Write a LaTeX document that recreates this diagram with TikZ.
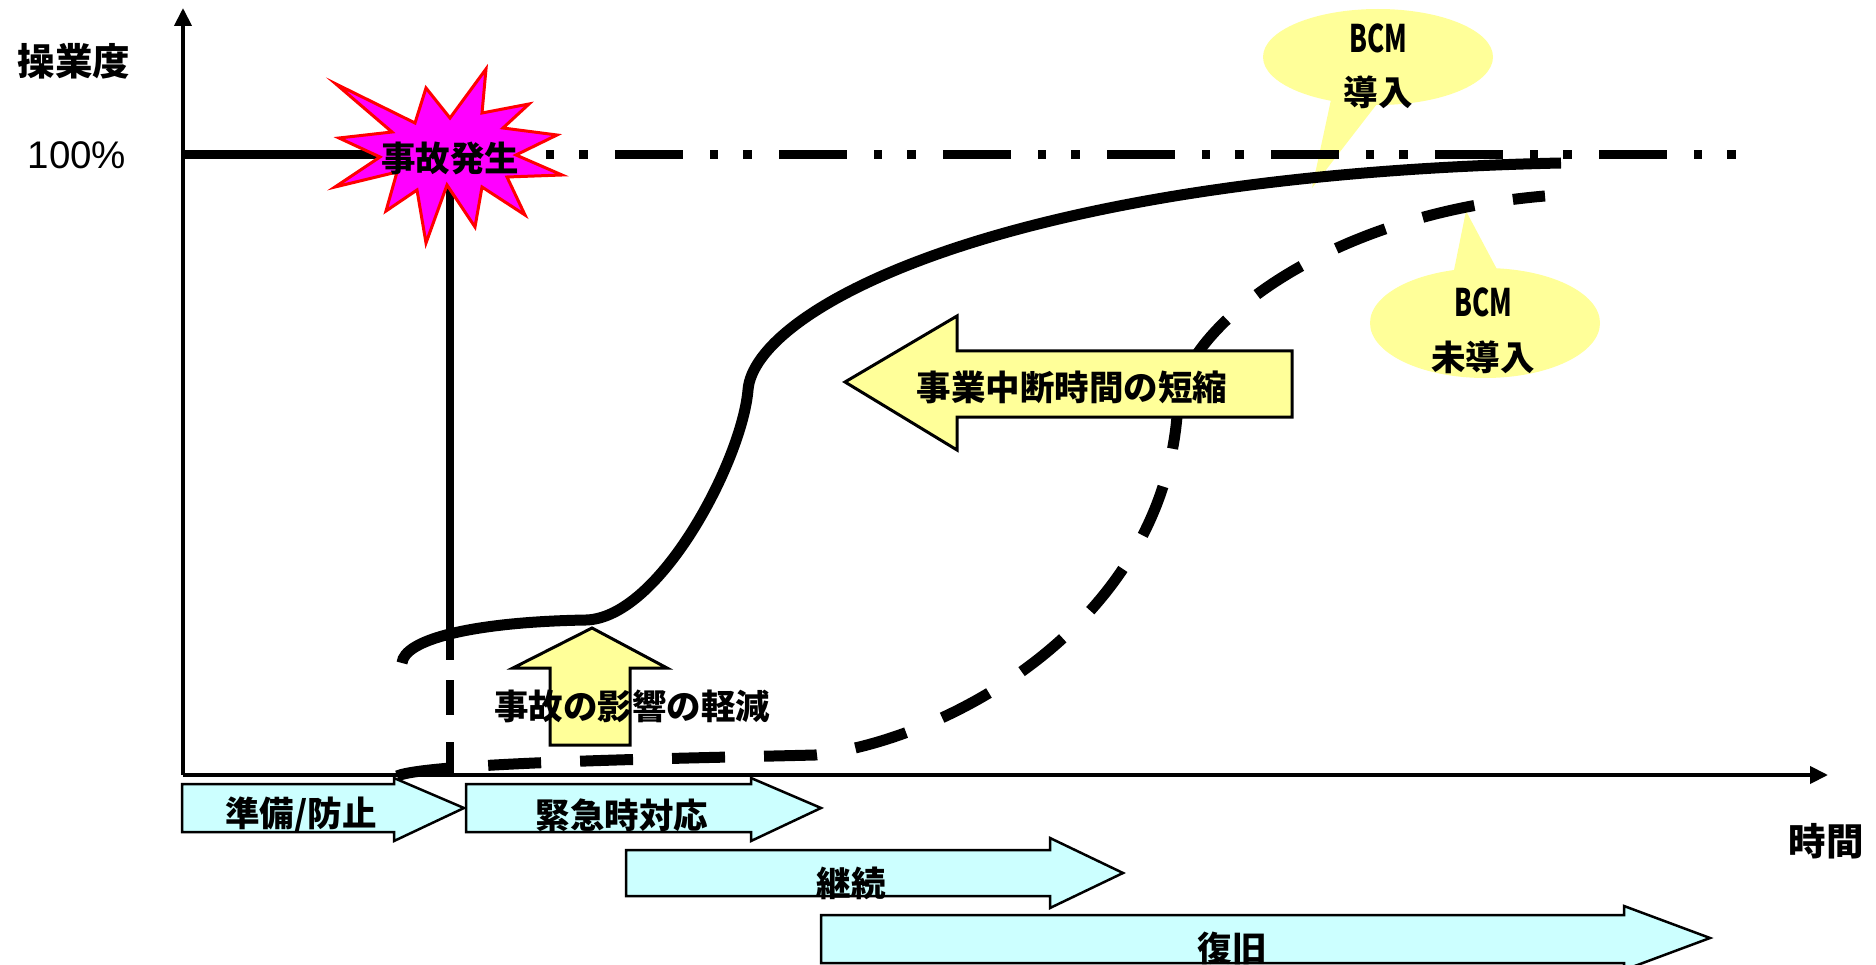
\documentclass[tikz,border=0pt]{standalone}
\usepackage{graphicx}
\usepackage{fontspec}
\setmainfont{Liberation Sans}
\newfontfamily\jp{Noto Sans CJK JP}
\usetikzlibrary{arrows.meta}
\definecolor{lyellow}{RGB}{255,255,153}
\definecolor{lcyan}{RGB}{204,255,255}
\definecolor{burst}{RGB}{255,0,255}
\definecolor{burstline}{RGB}{255,0,0}
\tikzset{
  jptext/.style={font=\jp\bfseries\fontsize{34.5}{38}\selectfont, inner sep=0pt, text=black},
  bigjptext/.style={font=\jp\bfseries\fontsize{37.5}{40}\selectfont, inner sep=0pt, text=black},
  latintext/.style={font=\fontsize{38.5}{42}\selectfont, inner sep=0pt, text=black},
  ybox/.style={fill=lyellow, draw=black, line width=3pt, line join=miter},
  cbox/.style={fill=lcyan, draw=black, line width=2.5pt, line join=miter},
  calloutfill/.style={fill=lyellow, draw=none},
  axisline/.style={line width=4pt, -{Triangle[length=18pt,width=17pt]}},
  levelline/.style={line width=9pt, line cap=butt},
  curvesolid/.style={line width=11pt, line cap=butt},
  curvedashed/.style={line width=11pt, line cap=butt, dash pattern=on 53pt off 39pt},
  burststyle/.style={fill=burst, draw=burstline, line width=3pt, line join=miter},
}
\newcommand{\bcm}{\scalebox{0.75}[1.1]{BCM}}
\begin{document}
\begin{tikzpicture}[x=1pt,y=-1pt]
\useasboundingbox (0,0) rectangle (1876,965);

% callouts (drawn first, lines go over them)
\fill[calloutfill] (1378,57) ellipse [x radius=115, y radius=48];
\fill[calloutfill] (1332,95) -- (1312,188) -- (1380,100) -- cycle;
\fill[calloutfill] (1485,323) ellipse [x radius=115, y radius=55];
\fill[calloutfill] (1453,275) -- (1466,211) -- (1500,275) -- cycle;

% axes
\coordinate (origin) at (183,775);
\coordinate (ytop) at (183,8);
\coordinate (xend) at (1828,775);
\draw[axisline] (origin) -- (ytop);
\draw[axisline] (origin) -- (xend);

% 100% level
\coordinate (lv0) at (183,155);
\coordinate (lv1) at (451,155);
\coordinate (lv2) at (1737,155);
\draw[levelline] (lv0) -- (lv1);
\draw[levelline, dash pattern=on 68pt off 27pt on 8pt off 25pt on 9pt off 27pt] (lv1) -- (lv2);

% accident vertical line
\coordinate (v0) at (450,185);
\coordinate (v1) at (450,775);
\draw[line width=8pt, line cap=butt, dash pattern=on 475pt off 20pt on 35pt off 27pt on 40pt] (v0) -- (v1);

% recovery curve with BCM
\draw[curvesolid] (402,663) .. controls (404,640) and (470,622) .. (586,620)
  .. controls (660,618) and (742,460) .. (748,390)
  .. controls (754,310) and (1000,175) .. (1561,163);

% recovery curve without BCM
\draw[curvedashed] (397,776) .. controls (430,762) and (700,758) .. (815,755)
  .. controls (950,740) and (1170,620) .. (1178,400)
  .. controls (1185,330) and (1320,215) .. (1545,196);

% starburst
\draw[burststyle] (336,84) -- (415,123) -- (426,88) -- (450,118) -- (486,69) -- (482,113)
  -- (529,104) -- (503,128) -- (557,135) -- (516,155) -- (562,175) -- (507,177)
  -- (525,215) -- (482,187) -- (475,227) -- (447,185) -- (426,243) -- (417,190)
  -- (386,211) -- (397,172) -- (335,187) -- (380,157) -- (339,138) -- (392,132) -- cycle;
\node[jptext] (accident) at (450,158) {事故発生};

% up arrow
\draw[ybox] (592,628) -- (667,668) -- (630,668) -- (630,745) -- (550,745) -- (550,668) -- (513,668) -- cycle;
\node[jptext] (mitigate) at (632,706) {事故の影響の軽減};

% left arrow
\draw[ybox] (845,382) -- (957,316) -- (957,351) -- (1292,351) -- (1292,417) -- (957,417) -- (957,450) -- cycle;
\node[jptext] (shorten) at (1072,387) {事業中断時間の短縮};

% callout texts
\node[jptext] (bcm1) at (1378,38) {\bcm};
\node[jptext] (intro1) at (1378,92) {導入};
\node[jptext] (bcm2) at (1483,302) {\bcm};
\node[jptext] (intro2) at (1483,357) {未導入};

% phase arrows
\draw[cbox] (182,784) -- (394,784) -- (394,778) -- (464,808) -- (394,841) -- (394,832) -- (182,832) -- cycle;
\node[jptext] (prep) at (301,815) {準備/防止};
\draw[cbox] (466,784) -- (751,784) -- (751,778) -- (821,808) -- (751,841) -- (751,832) -- (466,832) -- cycle;
\node[jptext] (emerg) at (622,815) {緊急時対応};
\draw[cbox] (626,850) -- (1050,850) -- (1050,838) -- (1123,873) -- (1050,908) -- (1050,896) -- (626,896) -- cycle;
\node[jptext] (cont) at (851,883) {継続};
\draw[cbox] (821,915) -- (1624,915) -- (1624,906) -- (1710,938) -- (1624,970) -- (1624,963) -- (821,963) -- cycle;
\node[jptext] (restore) at (1232,948) {復旧};

% axis labels
\node[bigjptext] (ylab) at (74,61) {操業度};
\node[latintext] (hundred) at (77,155) {100\%};
\node[bigjptext] (xlab) at (1826,841) {時間};
\end{tikzpicture}
\end{document}
